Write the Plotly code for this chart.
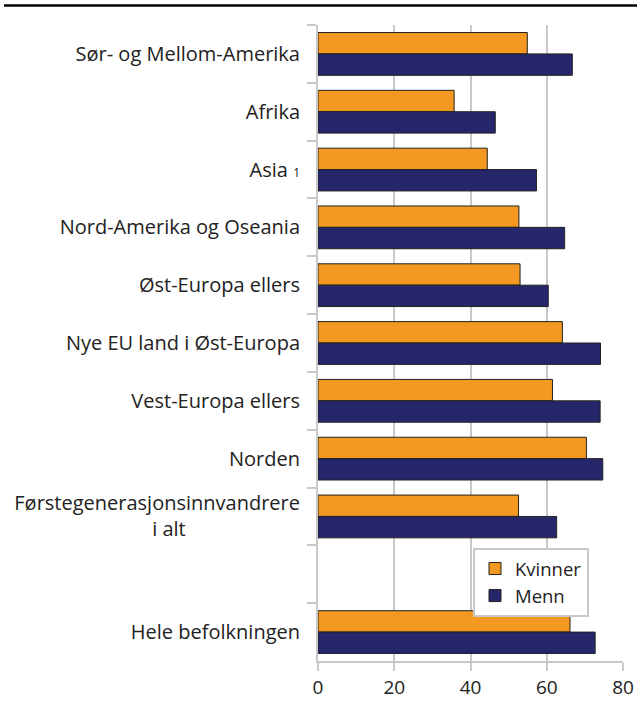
import plotly.graph_objects as go

categories = [
    "Sør- og Mellom-Amerika",
    "Afrika",
    "Asia <span style='font-size:12px'>1</span>",
    "Nord-Amerika og Oseania",
    "Øst-Europa ellers",
    "Nye EU land i Øst-Europa",
    "Vest-Europa ellers",
    "Norden",
    "Førstegenerasjonsinnvandrere<br>i alt" + "\u00a0" * 22,
    " ",
    "Hele befolkningen",
]
kvinner = [54.9, 35.7, 44.4, 52.7, 53.0, 64.1, 61.5, 70.4, 52.6, None, 66.1]
menn = [66.7, 46.5, 57.3, 64.7, 60.4, 74.1, 74.0, 74.7, 62.6, None, 72.7]
x_ticks = [0, 20, 40, 60, 80]

FONT = "Open Sans"
fig = go.Figure()
fig.add_trace(go.Bar(y=categories, x=kvinner, orientation="h", name="Kvinner",
                     marker=dict(color="#F39820", line=dict(color="#222222", width=1))))
fig.add_trace(go.Bar(y=categories, x=menn, orientation="h", name="Menn",
                     marker=dict(color="#26266B", line=dict(color="#222222", width=1))))

fig.update_layout(
    width=637, height=704,
    margin=dict(l=318, r=14, t=25, b=43, autoexpand=False),
    barmode="group", bargap=0.26, bargroupgap=0,
    plot_bgcolor="white", paper_bgcolor="white",
    font=dict(family=FONT, size=20, color="#222222"),
    legend=dict(x=(473 - 318) / 305, y=(661 - 548) / 636, xanchor="left", yanchor="top",
                bgcolor="white", bordercolor="#c8c8c8", borderwidth=2,
                font=dict(size=18.5), traceorder="normal",
                tracegroupgap=0, itemwidth=30),
    showlegend=True,
    shapes=[dict(type="line", xref="paper", yref="paper", x0=-314/305, x1=(637-318)/305,
                 y0=1 + 19.5/636, y1=1 + 19.5/636, line=dict(color="black", width=2.5))],
)
fig.update_xaxes(range=[0, 80], tickvals=x_ticks, showgrid=True, gridcolor="#c8c8c8", gridwidth=2,
                 showline=True, linecolor="#c8c8c8", linewidth=2, ticks="outside", ticklen=8,
                 tickcolor="#c8c8c8", tickwidth=2, tickfont=dict(size=19), zeroline=False,
                 automargin=False)
fig.update_yaxes(autorange="reversed", type="category", showline=True, linecolor="#c8c8c8", linewidth=2,
                 ticks="outside", tickson="boundaries", ticklen=9, tickcolor="#c8c8c8", tickwidth=2,
                 tickfont=dict(size=20), showgrid=False, ticklabelstandoff=12, automargin=False)

fig.write_html("out.html", config={"displayModeBar": False},
               post_script="document.body.style.margin='0';")
